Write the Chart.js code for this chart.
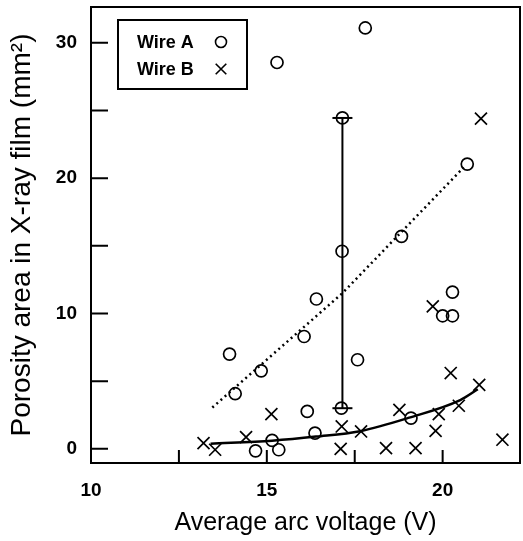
<!DOCTYPE html>
<html>
<head>
<meta charset="utf-8">
<script src="https://cdn.jsdelivr.net/npm/chart.js@4.4.1/dist/chart.umd.min.js"></script>
<style>
  html, body { margin: 0; padding: 0; background: #fff; }
  #wrap { width: 523px; height: 541px; }
</style>
</head>
<body>
<div id="wrap"><canvas id="porosityChart" width="523" height="541"></canvas></div>
<script>
// Wire A (circles)
const wireAX = [15.29, 17.8, 17.15, 20.7, 18.83, 17.14, 13.94, 14.1, 14.84, 16.41, 16.06, 17.58, 20.28, 20.0, 20.28, 16.15, 17.12, 16.37, 19.1, 15.15, 15.34, 14.68];
const wireAY = [28.55, 31.1, 24.45, 21.04, 15.7, 14.6, 7.0, 4.07, 5.76, 11.07, 8.3, 6.58, 11.58, 9.83, 9.83, 2.76, 3.0, 1.16, 2.27, 0.62, -0.07, -0.15];

// Wire B (crosses)
const wireBX = [21.09, 19.72, 20.23, 21.04, 15.13, 20.46, 18.77, 19.89, 19.8, 17.13, 17.68, 17.1, 18.39, 19.23, 21.7, 13.2, 13.53, 14.41];
const wireBY = [24.4, 10.52, 5.6, 4.73, 2.56, 3.18, 2.88, 2.56, 1.33, 1.65, 1.28, 0.0, 0.05, 0.05, 0.67, 0.42, -0.07, 0.86];

// trend for wire A (dotted) and wire B (solid curve)
const trendAX = [13.45, 17.15, 20.6];
const trendAY = [3.05, 11.5, 20.8];
const trendBX = [13.4, 15.15, 16.4, 17.65, 19.05, 20.5, 21.0];
const trendBY = [0.37, 0.6, 0.9, 1.3, 2.3, 3.6, 4.4];

// scatter range bar
const rangeX = [17.15, 17.15];
const rangeY = [3.0, 24.45];

const xTicks = [10, 12.5, 15, 17.5, 20];
const yTicks = [0, 5, 10, 15, 20, 25, 30];
const xLabels = [10, 15, 20];
const yLabels = [0, 10, 20, 30];

const legendNames = ['Wire A', 'Wire B'];

const toPts = (xs, ys) => xs.map((x, i) => ({ x, y: ys[i] }));

const fontFamily = 'Arial, "Liberation Sans", sans-serif';
const tickFont = { family: fontFamily, size: 19, weight: 'bold' };

// no extra label padding around the plot area
function noPad(s) {
  s.paddingTop = 0;
  s.paddingBottom = 0;
  s.paddingLeft = 0;
  s.paddingRight = 0;
}

// frame + inward tick marks
const framePlugin = {
  id: 'frame',
  afterDraw(chart) {
    const { ctx, chartArea: a, scales } = chart;
    ctx.save();
    ctx.strokeStyle = '#000';
    ctx.lineWidth = 2;
    ctx.strokeRect(a.left, a.top, a.right - a.left, a.bottom - a.top);
    ctx.beginPath();
    xTicks.forEach(v => {
      const px = scales.x.getPixelForValue(v);
      ctx.moveTo(px, a.bottom);
      ctx.lineTo(px, a.bottom - 13);
    });
    yTicks.forEach(v => {
      const py = scales.y.getPixelForValue(v);
      ctx.moveTo(a.left, py);
      ctx.lineTo(a.left + 17, py);
    });
    ctx.stroke();
    ctx.restore();
  }
};

// boxed legend with the marker after the name
const legendPlugin = {
  id: 'boxLegend',
  afterDraw(chart) {
    const ctx = chart.ctx;
    ctx.save();
    ctx.fillStyle = '#fff';
    ctx.fillRect(118, 20, 129, 69);
    ctx.strokeStyle = '#000';
    ctx.lineWidth = 2;
    ctx.strokeRect(118, 20, 129, 69);
    ctx.fillStyle = '#000';
    ctx.font = 'bold 18px ' + fontFamily;
    ctx.textBaseline = 'middle';
    ctx.fillText(legendNames[0], 137, 43);
    ctx.fillText(legendNames[1], 137, 70);
    ctx.fillStyle = 'rgba(0,0,0,0)';
    ctx.lineWidth = 1.6;
    const styles = ['circle', 'crossRot'];
    const radii = [5.5, 7.5];
    styles.forEach((s, i) => {
      Chart.helpers.drawPoint(ctx, { pointStyle: s, radius: radii[i], borderWidth: 1.6 }, 221, i === 0 ? 42 : 69);
    });
    ctx.restore();
  }
};

new Chart(document.getElementById('porosityChart'), {
  type: 'scatter',
  data: {
    datasets: [
      {
        label: 'Wire A',
        data: toPts(wireAX, wireAY),
        pointStyle: 'circle',
        pointRadius: 6,
        borderColor: '#000',
        backgroundColor: 'rgba(0,0,0,0)',
        pointBorderWidth: 1.7
      },
      {
        label: 'Wire B',
        data: toPts(wireBX, wireBY),
        pointStyle: 'crossRot',
        pointRadius: 8.5,
        borderColor: '#000',
        pointBorderWidth: 1.7
      },
      {
        label: 'Trend A',
        data: toPts(trendAX, trendAY),
        showLine: true,
        pointRadius: 0,
        borderColor: '#000',
        borderWidth: 2.5,
        borderDash: [2, 3.5],
        tension: 0
      },
      {
        label: 'Trend B',
        data: toPts(trendBX, trendBY),
        showLine: true,
        pointRadius: 0,
        borderColor: '#000',
        borderWidth: 2.5,
        cubicInterpolationMode: 'monotone'
      },
      {
        label: 'Range',
        data: toPts(rangeX, rangeY),
        showLine: true,
        pointStyle: 'line',
        pointRadius: 10,
        pointBorderWidth: 2,
        borderColor: '#000',
        borderWidth: 2
      }
    ]
  },
  options: {
    responsive: false,
    animation: false,
    layout: { autoPadding: false, padding: { top: 7, right: 3, left: 0, bottom: 0 } },
    plugins: {
      legend: { display: false },
      tooltip: { enabled: false }
    },
    scales: {
      x: {
        type: 'linear',
        min: 10,
        max: 22.2,
        afterFit: s => { s.height = 78; noPad(s); },
        afterBuildTicks: s => { s.ticks = xTicks.map(v => ({ value: v })); },
        grid: { display: false, drawTicks: false },
        border: { display: false },
        ticks: {
          color: '#000',
          font: tickFont,
          padding: 16,
          maxRotation: 0,
          callback: v => xLabels.includes(v) ? String(v) : ''
        },
        title: {
          display: true,
          text: 'Average arc voltage (V)',
          color: '#000',
          font: { family: fontFamily, size: 25 },
          padding: { top: 0, bottom: 3 }
        }
      },
      y: {
        type: 'linear',
        min: -1.05,
        max: 32.65,
        afterFit: s => { s.width = 91; noPad(s); },
        afterBuildTicks: s => { s.ticks = yTicks.map(v => ({ value: v })); },
        grid: { display: false, drawTicks: false },
        border: { display: false },
        ticks: {
          color: '#000',
          font: tickFont,
          padding: 14,
          callback: v => yLabels.includes(v) ? String(v) : ''
        },
        title: {
          display: true,
          text: 'Porosity area in X-ray film (mm²)',
          color: '#000',
          font: { family: fontFamily, size: 28 },
          padding: { top: 5, bottom: 0 }
        }
      }
    }
  },
  plugins: [framePlugin, legendPlugin]
});
</script>
</body>
</html>
